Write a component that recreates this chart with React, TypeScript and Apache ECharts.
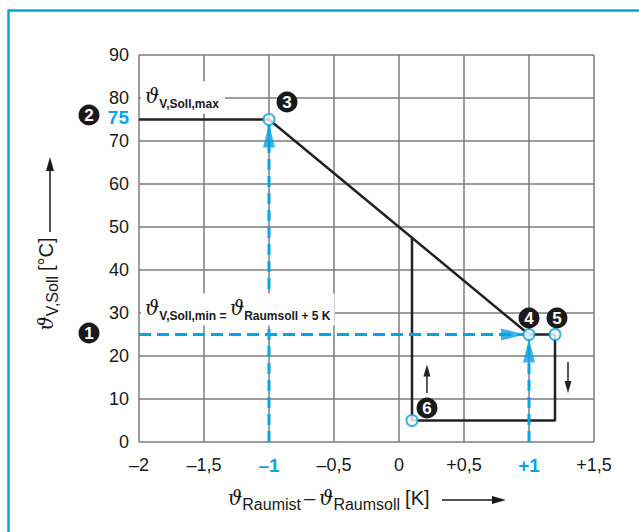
import React, { useEffect, useRef } from 'react';
import * as echarts from 'echarts';

// ---- data ----
const X_MIN = -2;
const X_MAX = 1.5;
const X_STEP = 0.5;
const Y_MIN = 0;
const Y_MAX = 90;
const Y_STEP = 10;
const HIGHLIGHT_X = [-1, 1];
const HIGHLIGHT_Y = 75;

// heating curve (black polyline)
const CURVE_X = [-2, -1, 1, 1.2, 1.2, 0.1, 0.1];
const CURVE_Y = [75, 75, 25, 25, 5, 5, 47.5];

// open circle points
const POINTS_X = [-1, 1, 1.2, 0.1];
const POINTS_Y = [75, 25, 25, 5];

// blue dashed guides
const GUIDE_H = [[-2, 25], [1, 25]];
const GUIDE_V1 = [[-1, 0], [-1, 75]];
const GUIDE_V2 = [[1, 0], [1, 25]];

// small direction arrows
const ARROW_UP = [[0.215, 11.4], [0.215, 16.6]];
const ARROW_DOWN = [[1.3, 18.6], [1.3, 12.8]];

// numbered markers: number + anchor data point
const MARK_NUMS = ['1', '2', '3', '4', '5', '6'];
const MARK_AT = [[-2, 25], [-2, 75], [-1, 75], [1, 25], [1.2, 25], [0.1, 5]];

// text annotations
const LABEL_MAX_AT = [-2, 80];
const LABEL_MIN_AT = [-2, 30];

const BLUE = '#0aa3e2';
const TXT = '#1a1a1a';
const GRID_C = '#7d7d7d';
const SANS = '"Liberation Sans", Arial, Helvetica, sans-serif';
const SERIF = '"DejaVu Serif", "Liberation Serif", serif';

const pair = (xs: number[], ys: number[]) => xs.map((x, i) => [x, ys[i]]);

const fmtX = (v: number) => {
  const r = Math.round(v * 10) / 10;
  const abs = String(Math.abs(r)).replace('.', ',');
  if (r < 0) return '\u2013' + abs;
  if (r > 0) return '+' + abs;
  return '0';
};

export default function App() {
  const ref = useRef<HTMLDivElement>(null);
  useEffect(() => {
    const el = ref.current!;
    const chart = echarts.init(el, undefined, { renderer: 'svg' });
    const option: any = {
      animation: false,
      backgroundColor: '#fff',
      grid: { left: 139, top: 55, right: 45, bottom: 90 },
      xAxis: {
        type: 'value',
        min: X_MIN,
        max: X_MAX,
        interval: X_STEP,
        axisLine: { show: false },
        axisTick: { show: false },
        splitLine: { show: true, lineStyle: { color: GRID_C, width: 1.5 } },
        axisLabel: {
          margin: 13,
          color: TXT,
          fontSize: 18,
          fontFamily: SANS,
          lineHeight: 20,
          formatter: (v: number) => {
            const s = fmtX(v);
            return HIGHLIGHT_X.some((h) => Math.abs(h - v) < 1e-9) ? '{b|' + s + '}' : s;
          },
          rich: {
            b: { color: BLUE, fontWeight: 'bold', fontSize: 19, fontFamily: SANS, lineHeight: 20 },
          },
        },
      },
      yAxis: {
        type: 'value',
        min: Y_MIN,
        max: Y_MAX,
        interval: Y_STEP,
        axisLine: { show: false },
        axisTick: { show: false },
        splitLine: { show: true, lineStyle: { color: GRID_C, width: 1.5 } },
        axisLabel: { margin: 10, color: TXT, fontSize: 18, fontFamily: SANS, lineHeight: 18, padding: [0, 0, 6, 0] },
      },
      series: [
        {
          type: 'line',
          data: pair(CURVE_X, CURVE_Y),
          symbol: 'none',
          lineStyle: { color: '#222', width: 2.5 },
          z: 2,
        },
        ...[GUIDE_H, GUIDE_V1, GUIDE_V2].map((d, i) => ({
          type: 'line',
          data: d,
          symbol: 'none',
          lineStyle: { color: BLUE, width: 3, type: i === 0 ? [12, 6] : [11, 6] },
          z: 3,
        })),
        {
          type: 'scatter',
          symbol: 'triangle',
          symbolSize: [12, 24],
          itemStyle: { color: BLUE },
          data: [
            { value: GUIDE_V1[1], symbolRotate: 0, symbolOffset: [0, 16] },
            { value: GUIDE_V2[1], symbolRotate: 0, symbolOffset: [0, 16] },
            { value: GUIDE_H[1], symbolRotate: -90, symbolOffset: [-16, 0] },
          ],
          z: 4,
        },
        ...[ARROW_UP, ARROW_DOWN].map((d, i) => ({
          type: 'line',
          showSymbol: true,
          data: [
            { value: d[0], symbol: 'none' },
            { value: d[1], symbol: 'triangle', symbolSize: [7, 12], symbolRotate: i === 0 ? 0 : 180 },
          ],
          lineStyle: { color: '#222', width: 1.5 },
          itemStyle: { color: '#222' },
          z: 3,
        })),
        {
          type: 'scatter',
          symbol: 'circle',
          symbolSize: 11,
          data: pair(POINTS_X, POINTS_Y),
          itemStyle: { color: '#fff', borderColor: BLUE, borderWidth: 2 },
          z: 5,
        },
      ],
    };
    chart.setOption(option);

    const px = (p: number[]) => chart.convertToPixel({ gridIndex: 0 }, p) as number[];
    const markOffsets = [[-50, -1.5], [-50, -4.5], [18, -17.5], [0, -16.5], [2, -16.5], [15, -12.5]];
    const markers = MARK_NUMS.map((n, i) => {
      const p = px(MARK_AT[i]);
      const o = markOffsets[i];
      return {
        type: 'group',
        x: p[0] + o[0],
        y: p[1] + o[1],
        children: [
          { type: 'circle', z: 60, shape: { cx: 0, cy: 0, r: 10.5 }, style: { fill: '#1a1a1a' } },
          {
            type: 'text',
            z: 61,
            x: 0,
            y: 0.5,
            style: { text: n, fill: '#fff', fontSize: 17, fontWeight: 'bold', fontFamily: SANS, align: 'center', verticalAlign: 'middle' },
          },
        ],
      };
    });

    const richSub = {
      t: { fontFamily: SERIF, fontStyle: 'italic', fontSize: 20, lineHeight: 24, verticalAlign: 'top', fill: TXT, color: TXT },
      s: { fontFamily: SANS, fontWeight: 'bold', fontSize: 12, lineHeight: 8, verticalAlign: 'bottom', fill: TXT, color: TXT },
    };
    const pMax = px(LABEL_MAX_AT);
    const pMin = px(LABEL_MIN_AT);
    const p75 = px([X_MIN, HIGHLIGHT_Y]);
    const gridLeft = px([X_MIN, Y_MIN])[0];
    const gridBottom = px([X_MIN, Y_MIN])[1];

    const graphic: any[] = [
      // blue frame
      {
        type: 'polyline',
        z: 70,
        shape: { points: [[8.5, 540], [8.5, 10.5], [645, 10.5]] },
        style: { stroke: BLUE, lineWidth: 2.5, fill: 'none' },
      },
      // 75 label
      {
        type: 'text',
        z: 60,
        x: p75[0] - 10,
        y: p75[1] - 2,
        style: { text: String(HIGHLIGHT_Y), fill: BLUE, fontSize: 19, fontWeight: 'bold', fontFamily: SANS, align: 'right', verticalAlign: 'middle' },
      },
      // theta V,Soll,max
      {
        type: 'text',
        z: 55,
        x: pMax[0] + 2,
        y: pMax[1] - 0.5,
        style: {
          text: '{t|\u03d1}{s|V,Soll,max}',
          rich: richSub,
          align: 'left',
          verticalAlign: 'middle',
          backgroundColor: '#fff',
          padding: [4, 6, 4, 4],
        },
      },
      // theta V,Soll,min = theta Raumsoll + 5 K
      {
        type: 'text',
        z: 55,
        x: pMin[0] + 2,
        y: pMin[1] - 3.5,
        style: {
          text: '{t|\u03d1}{s|V,Soll,min = }{t|\u03d1}{s|Raumsoll + 5 K}',
          rich: richSub,
          align: 'left',
          verticalAlign: 'middle',
          backgroundColor: '#fff',
          padding: [4, 4, 4, 4],
        },
      },
      // x axis title
      {
        type: 'text',
        z: 60,
        x: 228,
        y: gridBottom + 58,
        style: {
          text: '{t|\u03d1}{r|Raumist}{m|\u2013}{t|\u03d1}{r|Raumsoll}{k|[K]}',
          rich: {
            t: { fontFamily: SERIF, fontStyle: 'italic', fontSize: 20, lineHeight: 24, verticalAlign: 'top', fill: TXT, color: TXT },
            r: { fontFamily: SANS, fontSize: 16, lineHeight: 14, verticalAlign: 'bottom', fill: TXT, color: TXT },
            m: { fontFamily: SANS, fontSize: 20, lineHeight: 24, verticalAlign: 'top', fill: TXT, color: TXT, padding: [0, 4, 0, 3] },
            k: { fontFamily: SANS, fontSize: 20, lineHeight: 24, verticalAlign: 'top', fill: TXT, color: TXT, padding: [0, 0, 0, 5] },
          },
          align: 'left',
          verticalAlign: 'middle',
        },
      },
      { type: 'line', z: 60, shape: { x1: 442, y1: gridBottom + 58, x2: 494, y2: gridBottom + 58 }, style: { stroke: TXT, lineWidth: 1.5 } },
      { type: 'polygon', z: 60, shape: { points: [[506, gridBottom + 58], [492, gridBottom + 54], [492, gridBottom + 62]] }, style: { fill: TXT } },
      // y axis title
      {
        type: 'text',
        z: 60,
        x: gridLeft - 91,
        y: 284,
        rotation: Math.PI / 2,
        style: {
          text: '{t|\u03d1}{r|V,Soll}{k|[\u00b0C]}',
          rich: {
            t: { fontFamily: SERIF, fontStyle: 'italic', fontSize: 20, lineHeight: 24, verticalAlign: 'top', fill: TXT, color: TXT },
            r: { fontFamily: SANS, fontSize: 16, lineHeight: 14, verticalAlign: 'bottom', fill: TXT, color: TXT },
            k: { fontFamily: SANS, fontSize: 20, lineHeight: 24, verticalAlign: 'top', fill: TXT, color: TXT, padding: [0, 0, 0, 5] },
          },
          align: 'center',
          verticalAlign: 'middle',
        },
      },
      { type: 'line', z: 60, shape: { x1: gridLeft - 89, y1: 232, x2: gridLeft - 89, y2: 168 }, style: { stroke: TXT, lineWidth: 1.5 } },
      { type: 'polygon', z: 60, shape: { points: [[gridLeft - 89, 157], [gridLeft - 93, 171], [gridLeft - 85, 171]] }, style: { fill: TXT } },
      ...markers,
    ];
    chart.setOption({ graphic });
    return () => chart.dispose();
  }, []);
  return (
    <div
      ref={ref}
      style={{ position: 'absolute', left: 0, top: 0, width: 639, height: 532, background: '#fff' }}
    />
  );
}
